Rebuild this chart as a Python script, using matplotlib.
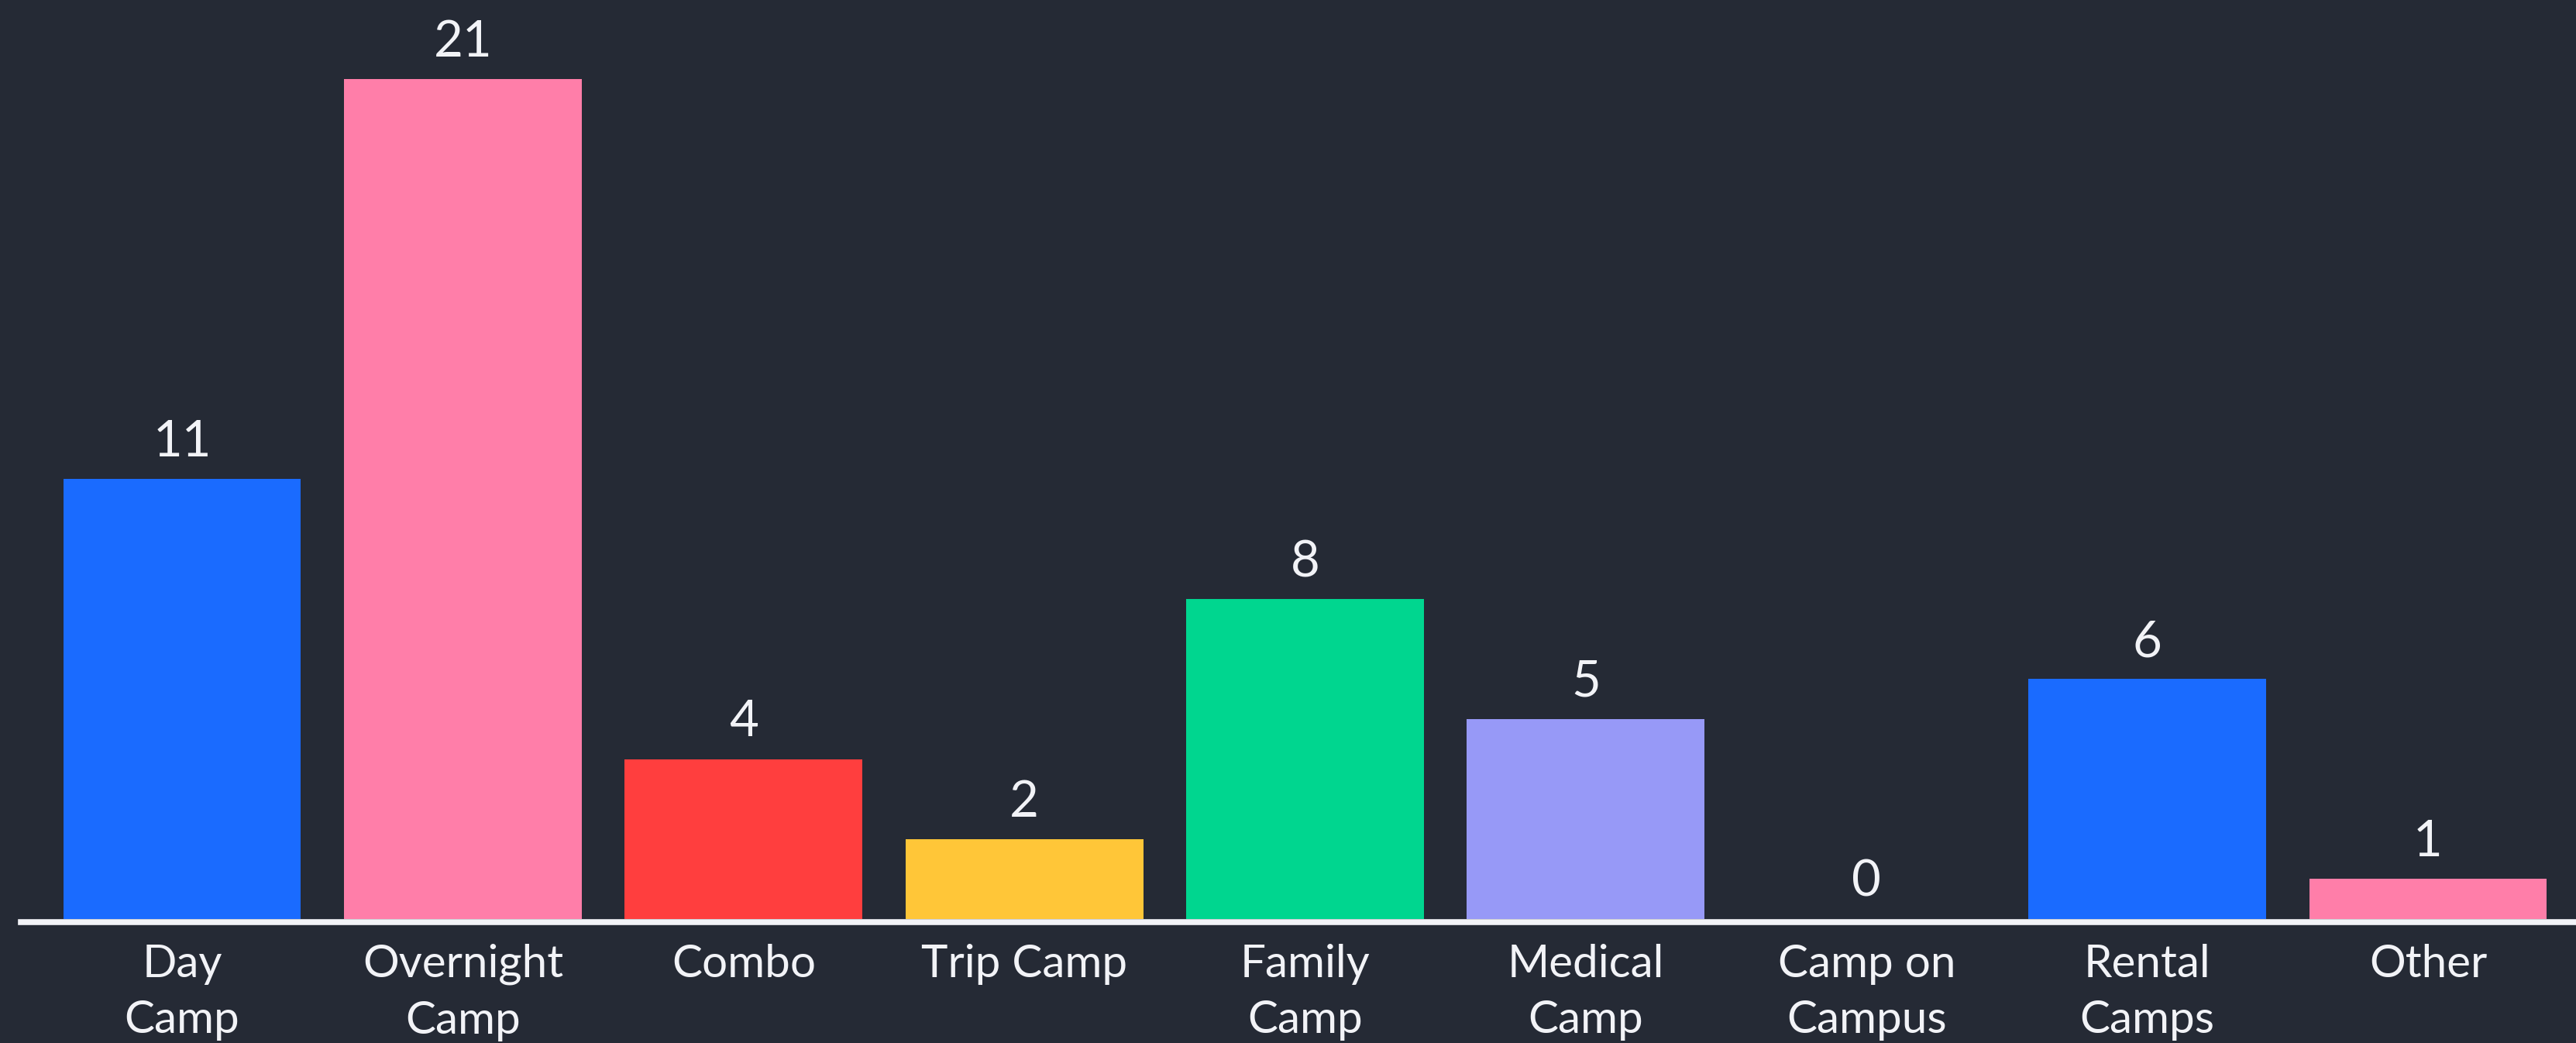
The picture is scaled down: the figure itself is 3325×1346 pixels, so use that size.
import matplotlib.pyplot as plt

categories = ["Day\nCamp", "Overnight\nCamp", "Combo", "Trip Camp", "Family\nCamp",
              "Medical\nCamp", "Camp on\nCampus", "Rental\nCamps", "Other"]
counts = [11, 21, 4, 2, 8, 5, 0, 6, 1]
colors = ["#1a6bff", "#ff7ea9", "#ff3e3e", "#ffc638", "#00d68f",
          "#9799f7", "#9799f7", "#1a6bff", "#ff7ea9"]

bg = "#252a35"
fg = "#f2f3f7"

plt.rcParams['font.family'] = ['Lato', 'DejaVu Sans']

fig = plt.figure(figsize=(33.25, 13.46), dpi=100, facecolor=bg)
ax = fig.add_axes([27 / 3325, (1346 - 1186) / 1346, 1 - 27 / 3325, 1186 / 1346])
ax.set_facecolor(bg)

x = list(range(len(categories)))
bars = ax.bar(x, counts, width=0.847, color=colors, zorder=1)

for rect, v in zip(bars, counts):
    ax.annotate(str(v), (rect.get_x() + rect.get_width() / 2, rect.get_height()),
                xytext=(0, 21), textcoords='offset points',
                ha='center', va='baseline', fontsize=47, color=fg)

ax.set_xlim(-0.574, 8.527)
ax.set_ylim(0, 1186 / 51.6)

ax.set_xticks(x)
ax.set_xticklabels(categories)
ax.tick_params(axis='x', length=0, pad=20, labelsize=42, labelcolor=fg)
ax.set_yticks([])

for side in ['top', 'left', 'right']:
    ax.spines[side].set_visible(False)
ax.spines['bottom'].set_color(fg)
ax.spines['bottom'].set_linewidth(5.5)
ax.spines['bottom'].set_position(('outward', 3))

# tick labels are rebuilt on first draw, so style them afterwards
fig.canvas.draw()
for lbl in ax.get_xticklabels():
    lbl.set_linespacing(1.45)
    lbl.set_multialignment('center')

fig.savefig("out.png", dpi=100, facecolor=bg)
